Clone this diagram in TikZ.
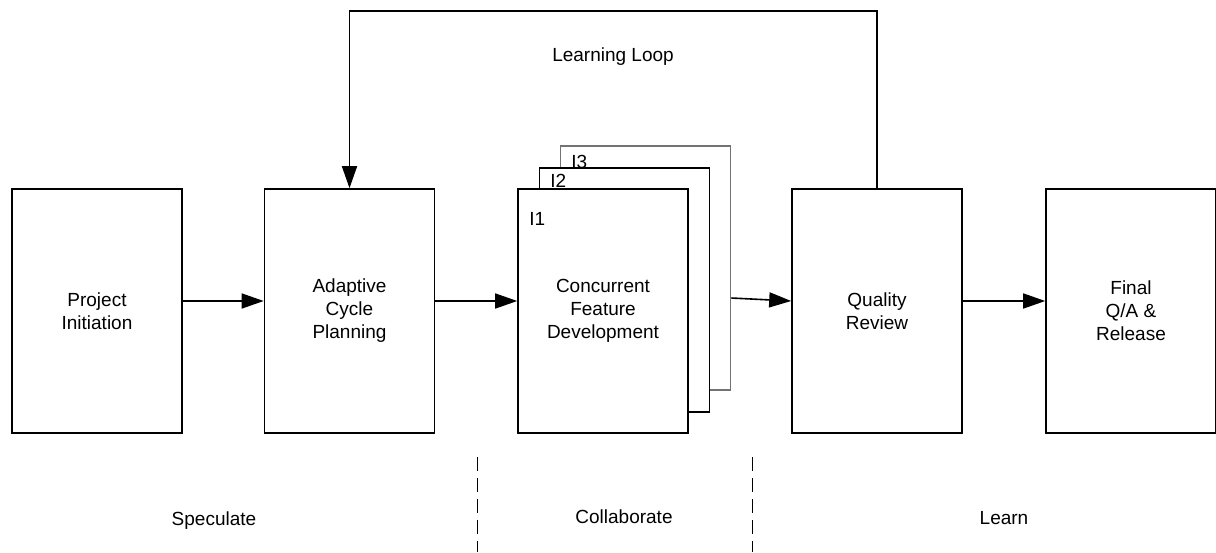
\documentclass[tikz,border=0pt]{standalone}
\usepackage{fontspec}
\setmainfont{Liberation Sans}
\usetikzlibrary{arrows.meta}

\tikzset{
	stage/.style={draw, line width=0.8pt, fill=white, minimum width=85pt, minimum height=122pt, inner sep=0pt, align=center, font=\fontsize{9.5}{11.5}\selectfont},
	flow/.style={-{Triangle[length=11pt,width=7.5pt]}, line width=0.8pt},
	txt/.style={font=\fontsize{9.5}{11.5}\selectfont},
	divider/.style={dashed, dash pattern=on 7pt off 3.5pt, line width=0.5pt}
}

\begin{document}
\begin{tikzpicture}[x=0.5pt, y=-0.5pt]
	\useasboundingbox (0,0) rectangle (1216,552);

	\node[stage] (init) at (97,311) {Project\\Initiation};
	\node[stage] (plan) at (349.5,311) {Adaptive\\Cycle\\Planning};
	\node[stage, draw=black!55] (it3) at (645.5,268) {};
	\node[stage] (it2) at (624.5,290) {};
	\node[stage] (dev) at (603,311) {Concurrent\\Feature\\Development};
	\node[stage] (review) at (877,311) {Quality\\Review};
	\node[stage] (release) at (1131,311) {Final\\Q/A \&\\Release};

	\node[txt, anchor=north west, inner sep=0pt] (l3) at (571,155) {I3};
	\node[txt, anchor=north west, inner sep=0pt] (l2) at (550,174) {I2};
	\node[txt, anchor=north west, inner sep=0pt] (l1) at (529,212) {I1};

	\draw[flow] ([yshift=5pt]init.east) -- ([yshift=5pt]plan.west);
	\draw[flow] ([yshift=5pt]plan.east) -- ([yshift=5pt]dev.west);
	\draw[flow] (it3.east |- 0,298) -- ([yshift=5pt]review.west);
	\draw[flow] ([yshift=5pt]review.east) -- ([yshift=5pt]release.west);
	\draw[flow] (review.north) -- ++(0,-177) -| (plan.north);

	\node[txt] (loop) at (613,57) {Learning Loop};

	\draw[divider] (477,457) -- (477,552);
	\draw[divider] (752,457) -- (752,552);

	\node[txt] (spec) at (214,521) {Speculate};
	\node[txt] (collab) at (624,517) {Collaborate};
	\node[txt] (learn) at (1004,518) {Learn};
\end{tikzpicture}
\end{document}
